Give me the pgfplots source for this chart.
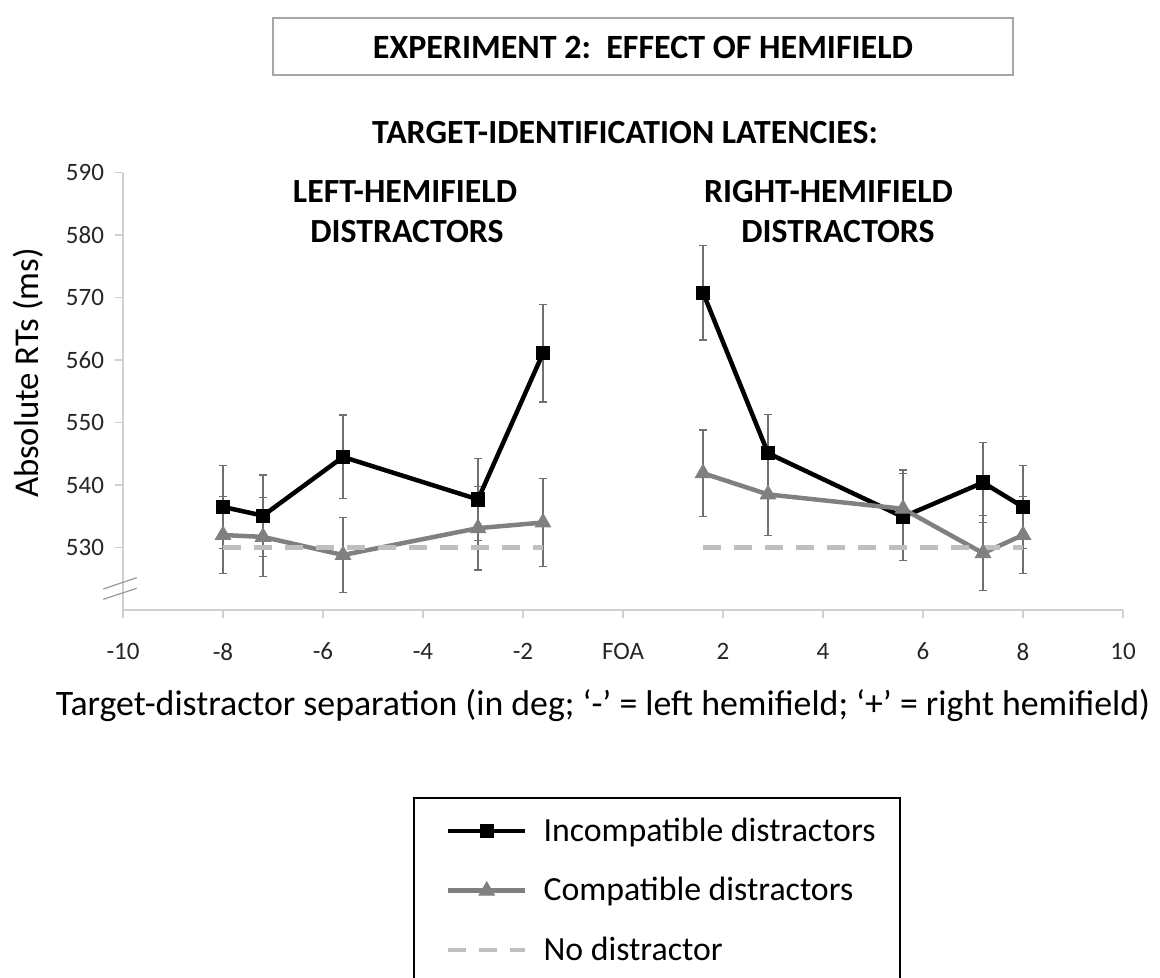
\documentclass[border=0pt]{standalone}
\usepackage{fontspec}
\setmainfont{Carlito}
\usepackage{pgfplots}
\pgfplotsset{compat=1.18}
\usepackage{pgfplotstable}

\pgfplotstableread{
x y e
-8 536.5 6.6
-7.2 535.1 6.5
-5.6 544.5 6.7
-2.9 537.7 6.6
-1.6 561.1 7.8
0 nan nan
1.6 570.8 7.6
2.9 545.1 6.2
5.6 534.9 7.0
7.2 540.4 6.4
8 536.5 6.6
}\incomp

\pgfplotstableread{
x y e
-8 532.0 6.2
-7.2 531.7 6.3
-5.6 528.8 6.0
-2.9 533.1 6.7
-1.6 534.0 7.0
0 nan nan
1.6 541.9 6.9
2.9 538.5 6.6
5.6 536.2 6.2
7.2 529.1 6.0
8 532.0 6.2
}\comp

\pgfplotstableread{
x y
-8 530
-1.6 530
}\noneL

\pgfplotstableread{
x y
1.6 530
8 530
}\noneR

\definecolor{axgray}{HTML}{D0D0D0}
\definecolor{ebgray}{HTML}{707070}
\definecolor{compgray}{HTML}{808080}
\definecolor{nogray}{HTML}{BFBFBF}

\begin{document}
\begin{tikzpicture}[x=1pt,y=1pt]
\path[use as bounding box] (0,0) rectangle (580,489);
% title box
\draw[gray!70, line width=0.6pt] (136.5,480) rectangle (506.5,451.5);
\node[font=\fontsize{17}{20}\selectfont\bfseries] at (321.5,465.5) {EXPERIMENT 2:\ \ EFFECT OF HEMIFIELD};
\node[font=\fontsize{16.9}{20}\selectfont\bfseries] at (312.5,422.5) {TARGET-IDENTIFICATION LATENCIES:};
\node[font=\fontsize{16.9}{20}\selectfont\bfseries] at (202.5,393) {LEFT-HEMIFIELD};
\node[font=\fontsize{16.9}{20}\selectfont\bfseries] at (203.5,373) {DISTRACTORS};
\node[font=\fontsize{16.9}{20}\selectfont\bfseries] at (414.25,393) {RIGHT-HEMIFIELD};
\node[font=\fontsize{16.9}{20}\selectfont\bfseries] at (419,373) {DISTRACTORS};
\node[font=\fontsize{17.4}{20}\selectfont, rotate=90] at (14,302.5) {Absolute RTs (ms)};
\node[font=\fontsize{17.9}{20}\selectfont] at (301.5,136.5) {Target-distractor separation (in deg; ‘-’ = left hemifield; ‘+’ = right hemifield)};

\begin{axis}[
  at={(61.5pt,184pt)}, anchor=south west,
  width=500pt, height=218.65pt, scale only axis,
  xmin=-10, xmax=10, ymin=520, ymax=590,
  axis x line=bottom, axis y line=left,
  axis line style={-, draw=axgray, line width=0.75pt},
  tick style={draw=axgray, line width=0.75pt},
  major tick length=4pt, tick align=outside,
  xtick={-10,-8,...,10},
  xticklabels={-10,-8,-6,-4,-2,FOA,2,4,6,8,10},
  ytick={530,540,...,590},
  /pgf/number format/assume math mode=true,
  ticklabel style={font=\fontsize{12.5}{15}\selectfont, text=black!85},
  xticklabel style={yshift=-9pt},
  yticklabel style={xshift=-2pt},
  unbounded coords=jump,
  clip=false,
  legend style={at={(rel axis cs:0.29,-0.4276)}, anchor=north west,
    draw=black, line width=1pt, inner xsep=10pt, inner ysep=8pt,
    font=\fontsize{16.9}{20}\selectfont, row sep=12.5pt,
    /tikz/every odd column/.append style={column sep=6pt}},
  legend cell align=left,
  legend image code/.code={%
    \path (-6pt,0pt);
    \draw[#1, mark=none] (0pt,0pt) -- (38.5pt,0pt);
    \draw[#1, only marks] plot coordinates {(19.25pt,0pt)};
  },
]
\addplot[forget plot, only marks, mark=none,
  error bars/.cd, y dir=both, y explicit,
  error bar style={line width=0.65pt, color=ebgray},
  error mark options={rotate=90, mark size=2pt, line width=0.65pt, color=ebgray}]
  table[x=x, y=y, y error=e] {\incomp};
\addplot[forget plot, only marks, mark=none,
  error bars/.cd, y dir=both, y explicit,
  error bar style={line width=0.65pt, color=ebgray},
  error mark options={rotate=90, mark size=2pt, line width=0.65pt, color=ebgray}]
  table[x=x, y=y, y error=e] {\comp};

\addplot[black, line width=2.25pt, mark=square*, mark size=3.3pt, mark options={solid, line width=0.5pt}]
  table[x=x, y=y] {\incomp};
\addlegendentry{Incompatible distractors}
\addplot[compgray, line width=2.25pt, mark=triangle*, mark size=4.4pt, mark options={solid, line width=0.5pt}]
  table[x=x, y=y] {\comp};
\addlegendentry{Compatible distractors}
\addplot[nogray, line width=2.25pt, dash pattern=on 9pt off 6.5pt]
  table[x=x, y=y] {\noneL};
\addlegendentry{No distractor}
\addplot[forget plot, nogray, line width=2.25pt, dash pattern=on 9pt off 6.5pt]
  table[x=x, y=y] {\noneR};
\end{axis}
% axis break marks
\draw[gray!80, line width=0.6pt] (51.65,194.5) -- (68.35,200.15);
\draw[gray!80, line width=0.6pt] (51.65,189.35) -- (68.35,194.85);
\end{tikzpicture}
\end{document}
